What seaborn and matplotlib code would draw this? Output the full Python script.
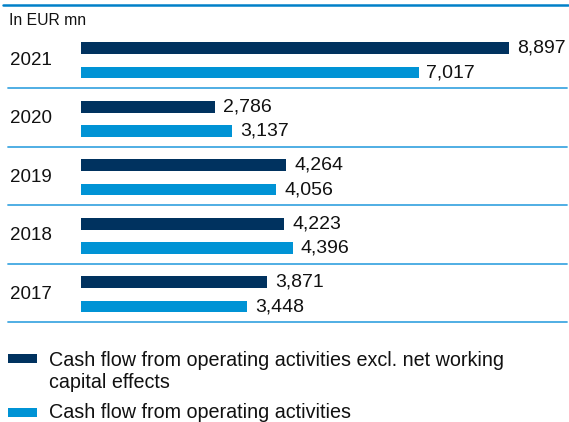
import pandas as pd
import seaborn as sns
import matplotlib.pyplot as plt
from matplotlib.patches import Rectangle
from matplotlib.lines import Line2D

# values (EUR mn)
years = ["2021", "2020", "2019", "2018", "2017"]
cf_excl_nwc = [8897, 2786, 4264, 4223, 3871]
cf_operating = [7017, 3137, 4056, 4396, 3448]
series_names = [
    "Cash flow from operating activities excl. net working\ncapital effects",
    "Cash flow from operating activities",
]
colors = ["#00325F", "#0093D5"]
rule_color = "#41A8E2"

df = pd.DataFrame({
    "year": years * 2,
    "value": cf_excl_nwc + cf_operating,
    "series": [series_names[0]] * len(years) + [series_names[1]] * len(years),
})

sns.set_style("white")
plt.rcParams["font.family"] = ["Liberation Sans", "DejaVu Sans"]

W, H = 569, 422
fig = plt.figure(figsize=(W / 100, H / 100), dpi=100)
ax = fig.add_axes([0, 0, 1, 1])

sns.barplot(data=df, y="year", x="value", hue="series", order=years,
            hue_order=series_names, palette=colors, orient="h",
            width=0.828, gap=0.52, saturation=1, linewidth=0,
            legend=False, ax=ax)

# map data onto the pixel layout of the reference
ax.set_xlim(-1690, 10139)
ax.set_ylim(6.181, -1.0325)
ax.set_axis_off()

# value labels
for cont in ax.containers:
    ax.bar_label(cont, labels=[f"{v:,.0f}" for v in cont.datavalues],
                 padding=5.5, fontsize=14, color="#111111")

# year labels and separators
for i, yr in enumerate(years):
    ax.text(10 / W, i, yr, transform=ax.get_yaxis_transform(),
            ha="left", va="center", fontsize=13.5, color="#111111")
    ax.axhline(i + 0.472, xmin=8 / W, xmax=567 / W, color=rule_color, lw=1.3)

# top rule from the cropped header
fig.add_artist(Line2D([3 / W, 568 / W], [1 - 5 / H, 1 - 5 / H],
                      color="#0080C8", lw=1.8))

fig.text(9 / W, 1 - 25 / H, "In EUR mn", fontsize=11.3, color="#111111",
         ha="left", va="baseline")

# legend drawn by hand so the swatch sits on the first text line
swatch_y = [358, 412]
first_base = [366, 417.5]
for cy, base, name, col in zip(swatch_y, first_base, series_names, colors):
    fig.add_artist(Rectangle((8.3 / W, 1 - (cy + 4.5) / H), 29 / W, 9 / H,
                             transform=fig.transFigure, color=col, lw=0))
    for k, line in enumerate(name.split("\n")):
        fig.text(49 / W, 1 - (base + 21.7 * k) / H, line, fontsize=14.2,
                 color="#111111", ha="left", va="baseline")

fig.savefig("out.png", dpi=100)
